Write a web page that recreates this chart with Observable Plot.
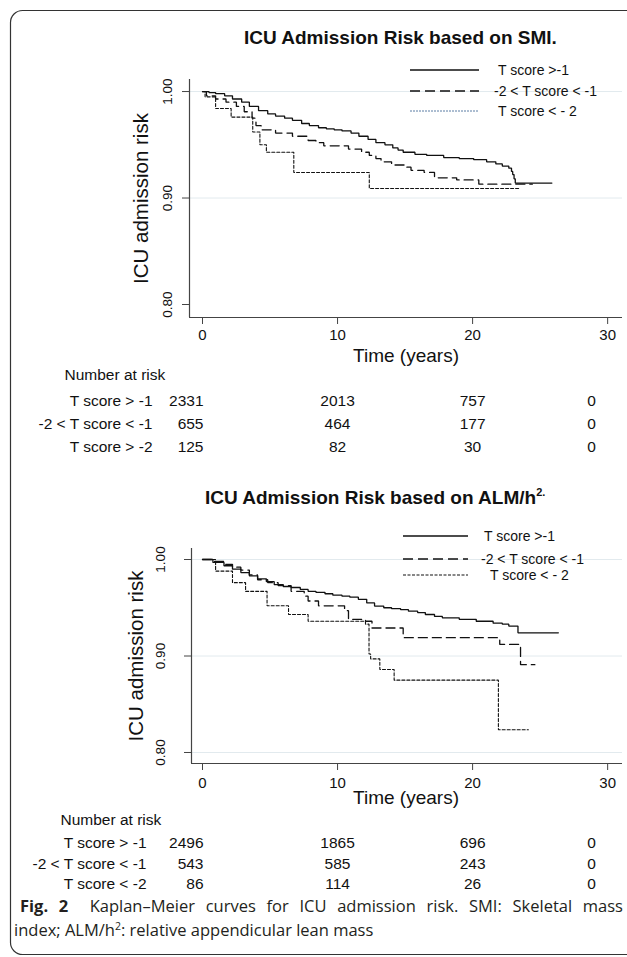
<!DOCTYPE html>
<html>
<head>
<meta charset="utf-8">
<script src="https://cdn.jsdelivr.net/npm/d3@7"></script>
<script src="https://cdn.jsdelivr.net/npm/@observablehq/plot@0.6"></script>
<style>
  body { margin: 0; background: #fff; }
  #fig { position: relative; width: 627px; height: 957px; overflow: hidden; background: #fff;
         font-family: "Liberation Sans", Arial, sans-serif; }
  #fig > svg { position: absolute; left: 0; }
</style>
</head>
<body>
<div id="fig"></div>
<script>
// ---------- data ----------
const xTicks = [0, 10, 20, 30];
const yTicks = [0.8, 0.9, 1.0];
const riskTimes = [0, 10, 20, 30];
const yTitle = "ICU admission risk";
const xTitle = "Time (years)";
const legendLabelsTop = ["T score >-1", "-2 < T score < -1", "T score < - 2"];
const legendLabelsBottom = ["T score >-1", "-2 < T score < -1", "T score < - 2"];

// SMI panel: [time (years), survival]
const smiAbove1 = [[0,1.000],[0.48,0.999],[0.97,0.998],[1.64,0.996],[2.22,0.993],[2.90,0.990],[3.47,0.986],[4.15,0.982],[4.83,0.979],[5.41,0.977],[6.08,0.975],[6.66,0.973],[7.34,0.970],[7.91,0.968],[8.59,0.966],[9.17,0.965],[9.75,0.964],[10.33,0.963],[11.0,0.961],[11.58,0.958],[12.26,0.955],[12.84,0.952],[13.51,0.950],[14.09,0.947],[14.48,0.945],[14.86,0.943],[15.73,0.941],[16.6,0.940],[17.86,0.938],[19.01,0.937],[20.08,0.936],[21.04,0.934],[21.72,0.932],[22.2,0.930],[22.68,0.928],[22.88,0.925],[22.97,0.922],[23.07,0.918],[23.16,0.914],[25.87,0.914]];
const smiBetween = [[0,1.000],[0.29,0.996],[0.97,0.993],[1.74,0.990],[2.51,0.986],[3.09,0.981],[3.67,0.975],[3.96,0.968],[4.34,0.964],[5.41,0.961],[6.66,0.958],[7.82,0.954],[8.4,0.952],[8.98,0.949],[10.81,0.946],[11.78,0.943],[12.35,0.940],[12.84,0.937],[13.22,0.934],[14.0,0.931],[15.06,0.929],[15.44,0.926],[16.41,0.924],[17.18,0.919],[18.82,0.917],[20.46,0.913],[24.42,0.913]];
const smiBelow2 = [[0,1.000],[0.19,0.995],[0.97,0.984],[2.12,0.976],[3.72,0.962],[4.25,0.950],[4.73,0.943],[6.76,0.924],[12.35,0.909],[23.45,0.909]];

// ALM/h2 panel
const almAbove1 = [[0,1.000],[0.77,0.997],[1.59,0.9935],[2.22,0.990],[2.84,0.9865],[3.47,0.983],[4.08,0.980],[4.73,0.977],[5.31,0.974],[5.98,0.972],[6.56,0.971],[7.24,0.969],[7.82,0.967],[8.4,0.966],[9.07,0.9645],[9.65,0.963],[10.33,0.962],[10.91,0.961],[11.54,0.9587],[12.16,0.955],[12.74,0.9517],[13.42,0.950],[14.0,0.949],[14.67,0.948],[15.25,0.9465],[15.93,0.945],[16.5,0.943],[17.18,0.941],[17.76,0.9396],[19.01,0.938],[20.27,0.936],[21.52,0.934],[22.2,0.933],[22.68,0.931],[23.36,0.924],[26.35,0.924]];
const almBetween = [[0,1.000],[0.77,0.998],[1.6,0.995],[2.22,0.992],[2.84,0.989],[3.47,0.984],[4.08,0.979],[4.83,0.976],[5.6,0.973],[6.56,0.967],[7.53,0.962],[7.82,0.957],[8.59,0.952],[10.52,0.947],[10.81,0.938],[12.07,0.936],[12.55,0.929],[14.86,0.919],[22.01,0.912],[23.55,0.891],[24.61,0.891]];
const almBelow2 = [[0,1.000],[0.97,0.988],[2.22,0.976],[3.19,0.967],[4.78,0.952],[6.37,0.943],[7.82,0.936],[12.07,0.933],[12.33,0.902],[12.45,0.897],[13.13,0.886],[14.19,0.875],[21.91,0.8235],[24.13,0.8235]];

// Number at risk
const riskLabelsTop = ["T score > -1", "-2 < T score < -1", "T score > -2"];
const riskAbove1Top = [2331, 2013, 757, 0];
const riskBetweenTop = [655, 464, 177, 0];
const riskBelow2Top = [125, 82, 30, 0];
const riskLabelsBottom = ["T score > -1", "-2 < T score < -1", "T score < -2"];
const riskAbove1Bottom = [2496, 1865, 696, 0];
const riskBetweenBottom = [543, 585, 243, 0];
const riskBelow2Bottom = [86, 114, 26, 0];

// ---------- drawing ----------
const FONT = '"Liberation Sans", Arial, sans-serif';
const styles = [
  {strokeWidth: 1.3, strokeDasharray: null},
  {strokeWidth: 1.3, strokeDasharray: "9,5"},
  {strokeWidth: 1.1, strokeDasharray: "3,2"}
];

function panel(c) {
  const fmt = d3.format(".2f");
  const marks = [
    Plot.ruleY(c.grid, {stroke: "#e2eaee", strokeWidth: 1}),
    Plot.axisY({ticks: yTicks, tickSize: 7, tickFormat: () => "", label: null, stroke: "#444"}),
    Plot.text(yTicks, {y: d => d, text: d => fmt(d), frameAnchor: "left", dx: c.yLabDx, rotate: -90,
      textAnchor: "middle", lineAnchor: "middle", fontSize: 13.5}),
    Plot.axisX({ticks: xTicks, tickSize: 7, tickPadding: c.xPad, label: null, fontSize: 15, stroke: "#444"}),
    Plot.ruleX([c.xDomain[0]], {stroke: "#444", strokeWidth: 1.2}),
    Plot.ruleY([c.yDomain[0]], {stroke: "#444", strokeWidth: 1.2}),
    Plot.text([yTitle], {frameAnchor: "left", dx: c.yTitleDx, dy: c.yTitleDy, rotate: -90,
      textAnchor: "middle", lineAnchor: "middle", fontSize: 20.5}),
    Plot.text([xTitle], {frameAnchor: "bottom", dx: c.xTitleDx, dy: c.xTitleDy, lineAnchor: "middle", fontSize: 19})
  ];
  c.curves.forEach((curve, i) => {
    marks.push(Plot.line(curve, {x: d => d[0], y: d => d[1], curve: "step-after",
      stroke: "#111", ...styles[i], strokeLinejoin: "miter"}));
  });
  marks.push(Plot.text(["Number at risk"], {frameAnchor: "bottom-left", dx: c.tblLeft - c.ml, dy: c.numDy,
    textAnchor: "start", lineAnchor: "middle", fontSize: 15.5}));
  c.risk.forEach((vals, i) => {
    marks.push(Plot.text([c.riskLabels[i]], {frameAnchor: "bottom-left", dx: c.labRight - c.ml, dy: c.rowDy[i],
      textAnchor: "end", lineAnchor: "middle", fontSize: 15.5}));
    const rows = riskTimes.map((t, j) => ({t, n: String(vals[j])}));
    marks.push(Plot.text(rows.slice(0, 1), {x: "t", text: "n", frameAnchor: "bottom", dy: c.rowDy[i],
      textAnchor: "end", lineAnchor: "middle", dx: 1, fontSize: 15.5}));
    marks.push(Plot.text(rows.slice(1, 3), {x: "t", text: "n", frameAnchor: "bottom", dy: c.rowDy[i],
      textAnchor: "middle", lineAnchor: "middle", fontSize: 15.5}));
    marks.push(Plot.text(rows.slice(3), {x: "t", text: "n", frameAnchor: "bottom", dy: c.rowDy[i], dx: -16,
      textAnchor: "middle", lineAnchor: "middle", fontSize: 15.5}));
  });
  return Plot.plot({
    width: 627, height: c.height,
    marginLeft: c.ml, marginRight: c.mr, marginTop: c.mt, marginBottom: c.mb,
    x: {domain: c.xDomain}, y: {domain: c.yDomain},
    style: {fontFamily: FONT, fontSize: "15px", color: "#111", background: "transparent", overflow: "visible"},
    marks
  });
}

const fig = document.getElementById("fig");

const p1 = panel({
  height: 465, ml: 189, mr: 5, mt: 79, mb: 465 - 317,
  xDomain: [-0.963, 31.1], yDomain: [0.7878, 1.0113],
  grid: [0.9, 1.0], xPad: 5, yLabDx: -22, yTitleDx: -48, yTitleDy: 0, xTitleDx: 0, xTitleDy: 38,
  curves: [smiAbove1, smiBetween, smiBelow2],
  tblLeft: 64, labRight: 152, numDy: 58, rowDy: [84, 107, 130],
  riskLabels: riskLabelsTop, risk: [riskAbove1Top, riskBetweenTop, riskBelow2Top]
});
p1.style.top = "0px";
fig.appendChild(p1);

const top2 = 470;
const p2 = panel({
  height: 430, ml: 191, mr: 5, mt: 548 - top2, mb: 430 - (763 - top2),
  xDomain: [-0.815, 31.1], yDomain: [0.7886, 1.0114],
  grid: [0.8, 0.9, 1.0], xPad: 7, yLabDx: -31, yTitleDx: -55, yTitleDy: 0, xTitleDx: -1, xTitleDy: 34,
  curves: [almAbove1, almBetween, almBelow2],
  tblLeft: 60, labRight: 146, numDy: 57, rowDy: [80, 101, 121],
  riskLabels: riskLabelsBottom, risk: [riskAbove1Bottom, riskBetweenBottom, riskBelow2Bottom]
});
p2.style.top = top2 + "px";
fig.appendChild(p2);

// ---------- overlay: border, titles, legends, caption ----------
const ov = d3.select(fig).append("svg")
  .attr("width", 627).attr("height", 957).style("top", "0px")
  .attr("font-family", FONT);

ov.append("rect").attr("x", 10.5).attr("y", 10.5).attr("width", 640).attr("height", 944)
  .attr("rx", 12).attr("fill", "none").attr("stroke", "#333").attr("stroke-width", 1.2);

ov.append("text").attr("x", 244).attr("y", 43.5).attr("font-weight", "bold").attr("font-size", 19)
  .attr("fill", "#111").text("ICU Admission Risk based on SMI.");
const t2 = ov.append("text").attr("x", 205).attr("y", 504).attr("font-weight", "bold").attr("font-size", 19).attr("fill", "#111");
t2.append("tspan").text("ICU Admission Risk based on ALM/h");
t2.append("tspan").attr("dy", -8).attr("font-size", 11).text("2.");

function legend(cfg, labels) {
  const dashes = [null, "10,5", cfg.dotDash];
  labels.forEach((lab, i) => {
    ov.append("line").attr("x1", cfg.x1).attr("x2", cfg.x2).attr("y1", cfg.ys[i]).attr("y2", cfg.ys[i])
      .attr("stroke", i === 2 ? cfg.dotColor : "#111").attr("stroke-width", i === 2 ? cfg.dotWidth : 1.3)
      .attr("stroke-dasharray", dashes[i]);
    ov.append("text").attr("x", cfg.tx[i]).attr("y", cfg.ys[i] + 5).attr("font-size", 14).attr("fill", "#111").text(lab);
  });
}
legend({x1: 410, x2: 479, ys: [70, 91, 111], tx: [498, 494, 498], dotColor: "#5a7ca4", dotWidth: 1, dotDash: "2,1"}, legendLabelsTop);
legend({x1: 403, x2: 468, ys: [536, 559, 575], tx: [484, 481, 490], dotColor: "#111", dotWidth: 1.1, dotDash: "3,1.5"}, legendLabelsBottom);

// caption (first line justified to the box width)
const capFont = '"Open Sans", "Noto Sans", sans-serif';
const c1 = ov.append("text").attr("x", 20).attr("y", 912).attr("font-family", capFont).attr("font-size", 16.5).attr("fill", "#231f20");
c1.append("tspan").attr("font-weight", "bold").text("Fig. 2");
c1.append("tspan").text("  Kaplan\u2013Meier curves for ICU admission risk. SMI: Skeletal mass");
c1.style("white-space", "pre");
const natural = c1.node().getComputedTextLength();
const ws = Math.max(0, (603 - natural) / 11);
c1.style("word-spacing", ws + "px");
const c2 = ov.append("text").attr("x", 14).attr("y", 936).attr("font-family", capFont).attr("font-size", 16.5).attr("fill", "#231f20");
c2.append("tspan").text("index; ALM/h");
c2.append("tspan").attr("dy", -6).attr("font-size", 10.5).text("2");
c2.append("tspan").attr("dy", 6).text(": relative appendicular lean mass");
</script>
</body>
</html>
